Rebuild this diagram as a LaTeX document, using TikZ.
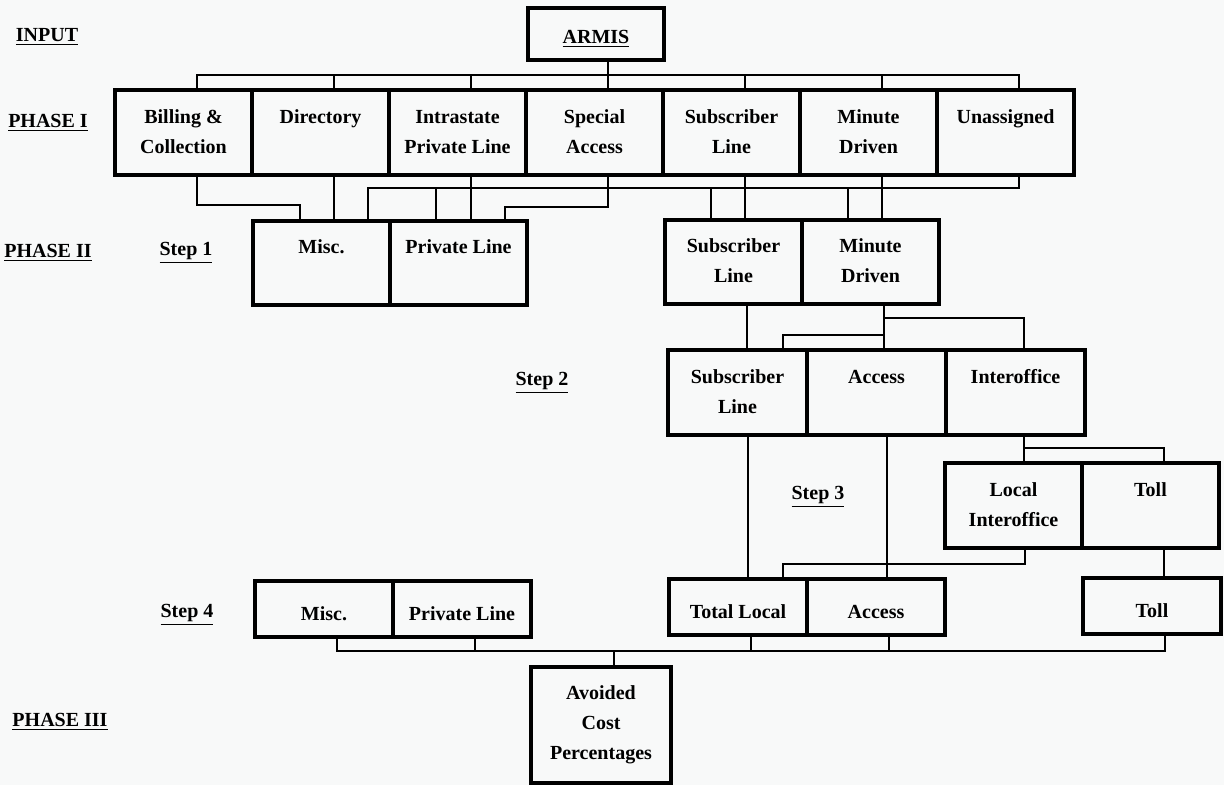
\documentclass[tikz,border=0pt]{standalone}
\usepackage{fontspec}
\setmainfont{Liberation Serif}
\usetikzlibrary{positioning,calc}
\definecolor{paper}{RGB}{248,249,249}

\begin{document}
\begin{tikzpicture}[
    x=0.5pt, y=-0.5pt,
    % --- Node styles ---
    cell/.style={
      rectangle, draw=black, line width=1.8pt, outer sep=0pt,
      minimum width=68.5pt, minimum height=42.5pt, inner sep=1pt,
      font=\fontsize{10}{15}\selectfont\bfseries, align=center,
      execute at begin node=\rule{0pt}{12pt},
      execute at end node=\rule[-1pt]{0pt}{1pt},
    },
    wide/.style={cell, minimum width=69.5pt},
    flat/.style={cell, minimum width=69pt, minimum height=28pt},
    tag/.style={font=\fontsize{10}{12}\selectfont\bfseries, inner sep=0pt},
    % --- Connector style ---
    wire/.style={line width=1pt, color=black},
  ]

    % ===================== CANVAS =====================
    \fill[paper] (0,0) rectangle (1224,785);
    \useasboundingbox (0,0) rectangle (1224,785);

    % ===================== ROW LABELS =====================
    \node[tag] (linput)  at (47,37)   {\underline{INPUT}};
    \node[tag] (lphase1) at (48,123)  {\underline{PHASE I}};
    \node[tag] (lphase2) at (48,253)  {\underline{PHASE II}};
    \node[tag] (lstep1)  at (186,253) {\underline{Step 1}};
    \node[tag] (lstep2)  at (542,383) {\underline{Step 2}};
    \node[tag] (lstep3)  at (818,497) {\underline{Step 3}};
    \node[tag] (lstep4)  at (187,615) {\underline{Step 4}};
    \node[tag] (lphase3) at (60,722)  {\underline{PHASE III}};

    % ===================== INPUT =====================
    \node[cell, minimum width=68pt, minimum height=26pt] (armis) at (596,34) {\underline{ARMIS}};

    % ===================== PHASE I =====================
    \node[cell, anchor=north west] (bill)  at (115,90)        {Billing \&\\Collection};
    \node[cell, anchor=north west] (dir)   at (bill.north east)  {Directory\\\mbox{}};
    \node[cell, anchor=north west] (intra) at (dir.north east)   {Intrastate\\Private Line};
    \node[cell, anchor=north west] (spec)  at (intra.north east) {Special\\Access};
    \node[cell, anchor=north west] (subs)  at (spec.north east)  {Subscriber\\Line};
    \node[cell, anchor=north west] (minu)  at (subs.north east)  {Minute\\Driven};
    \node[cell, anchor=north west] (unas)  at (minu.north east)  {Unassigned\\\mbox{}};

    % ===================== PHASE II, STEP 1 =====================
    \node[cell, minimum height=42pt, anchor=north west] (pmisc) at (253,221)          {Misc.\\\mbox{}};
    \node[cell, minimum height=42pt, anchor=north west] (pline) at (pmisc.north east) {Private Line\\\mbox{}};
    \node[cell, minimum height=42pt, anchor=north west] (psub)  at (665,220)          {Subscriber\\Line};
    \node[cell, minimum height=42pt, anchor=north west] (pmin)  at (psub.north east)  {Minute\\Driven};

    % ===================== STEP 2 =====================
    \node[wide, anchor=north west] (ssub)   at (668,350)         {Subscriber\\Line};
    \node[wide, anchor=north west] (sacc)   at (ssub.north east) {Access\\\mbox{}};
    \node[wide, anchor=north west] (sinter) at (sacc.north east) {Interoffice\\\mbox{}};

    % ===================== STEP 3 =====================
    \node[cell, anchor=north west] (lint)  at (945,463)         {Local\\Interoffice};
    \node[cell, anchor=north west] (ltoll) at (lint.north east) {Toll\\\mbox{}};

    % ===================== STEP 4 =====================
    \node[flat, anchor=north west] (fmisc) at (255,581)          {Misc.};
    \node[flat, anchor=north west] (fline) at (fmisc.north east) {Private Line};
    \node[flat, anchor=north west] (ftot)  at (669,579)          {Total Local};
    \node[flat, anchor=north west] (facc)  at (ftot.north east)  {Access};
    \node[flat, anchor=north west] (ftoll) at (1083,578)         {Toll};

    % ===================== PHASE III =====================
    \node[cell, minimum width=70pt, minimum height=58pt, anchor=north west] (avoid) at (531,667)
      {Avoided\\Cost\\Percentages};

    % ===================== ARMIS -> PHASE I =====================
    \coordinate (topbus) at (0,75);
    \draw[wire] ([xshift=6.5pt]spec.north |- armis.south) -- ([xshift=6.5pt]spec.north);
    \draw[wire] ([xshift=6.5pt]bill.north) |- ([xshift=6.5pt]unas.north |- topbus)
      -- ([xshift=6.5pt]unas.north);
    \draw[wire] ([xshift=6.5pt]dir.north)   -- ([xshift=6.5pt]dir.north |- topbus);
    \draw[wire] ([xshift=6.5pt]intra.north) -- ([xshift=6.5pt]intra.north |- topbus);
    \draw[wire] ([xshift=6.5pt]subs.north)  -- ([xshift=6.5pt]subs.north |- topbus);
    \draw[wire] ([xshift=6.5pt]minu.north)  -- ([xshift=6.5pt]minu.north |- topbus);

    % ===================== PHASE I -> STEP 1 =====================
    \draw[wire] ([xshift=6.5pt]bill.south) -- ++(0,30) -| ([xshift=-11pt]pmisc.north);
    \draw[wire] ([xshift=6.5pt]dir.south)  -- ([xshift=6.5pt]dir.south |- pmisc.north);
    \draw[wire] ([xshift=6.5pt]intra.south) -- ([xshift=6.5pt]intra.south |- pline.north);
    \draw[wire] ([xshift=6.5pt]spec.south) -- ++(0,32) -| ([xshift=23pt]pline.north);
    \draw[wire] ([xshift=6.5pt]subs.south) -- ([xshift=6.5pt]subs.south |- psub.north);
    \draw[wire] ([xshift=6.5pt]minu.south) -- ([xshift=6.5pt]minu.south |- pmin.north);

    % unassigned spread over all four
    \coordinate (ubar) at (0,188);
    \draw[wire] ([xshift=6.5pt]unas.south) |- ([xshift=23pt]pmisc.north |- ubar)
      -- ([xshift=23pt]pmisc.north);
    \draw[wire] ([xshift=-11.5pt]pline.north) -- ([xshift=-11.5pt]pline.north |- ubar);
    \draw[wire] ([xshift=-11.5pt]psub.north)  -- ([xshift=-11.5pt]psub.north |- ubar);
    \draw[wire] ([xshift=-11.5pt]pmin.north)  -- ([xshift=-11.5pt]pmin.north |- ubar);

    % ===================== STEP 1 -> STEP 2 =====================
    \coordinate (mbar) at (0,318);
    \coordinate (sbar) at (0,335);
    \draw[wire] ([xshift=6.5pt]psub.south) -- ([xshift=6.5pt]psub.south |- ssub.north);
    \draw[wire] ([xshift=6.5pt]pmin.south) -- ([xshift=6.5pt]pmin.south |- sacc.north);
    \draw[wire] ([xshift=6.5pt]pmin.south |- mbar) -| ([xshift=4pt]sinter.north);
    \draw[wire] ([xshift=6.5pt]pmin.south |- sbar) -| ([xshift=22.5pt]ssub.north);

    % ===================== STEP 2 -> STEP 3 / STEP 4 =====================
    \coordinate (ibar) at (0,448);
    \draw[wire] ([xshift=5pt]ssub.south) -- ([xshift=5pt]ssub.south |- ftot.north);
    \draw[wire] ([xshift=5pt]sacc.south) -- ([xshift=5pt]sacc.south |- facc.north);
    \draw[wire] ([xshift=4pt]sinter.south) -- ([xshift=4pt]sinter.south |- lint.north);
    \draw[wire] ([xshift=4pt]sinter.south |- ibar) -| ([xshift=6.5pt]ltoll.north);

    % ===================== STEP 3 -> STEP 4 =====================
    \draw[wire] ([xshift=5.75pt]lint.south) -- ++(0,16) -| ([xshift=22.5pt]ftot.north);
    \draw[wire] ([xshift=6.5pt]ltoll.south) -- ([xshift=6.5pt]ltoll.south |- ftoll.north);

    % ===================== STEP 4 -> PHASE III =====================
    \coordinate (fbus) at (0,651);
    \draw[wire] ([xshift=6.5pt]fmisc.south) |- ([xshift=6.5pt]ftoll.south |- fbus)
      -- ([xshift=6.5pt]ftoll.south);
    \draw[wire] ([xshift=6.5pt]fline.south) -- ([xshift=6.5pt]fline.south |- fbus);
    \draw[wire] ([xshift=6.5pt]ftot.south)  -- ([xshift=6.5pt]ftot.south |- fbus);
    \draw[wire] ([xshift=6.5pt]facc.south)  -- ([xshift=6.5pt]facc.south |- fbus);
    \draw[wire] ([xshift=6.5pt]avoid.north) -- ([xshift=6.5pt]avoid.north |- fbus);

  \end{tikzpicture}
\end{document}
